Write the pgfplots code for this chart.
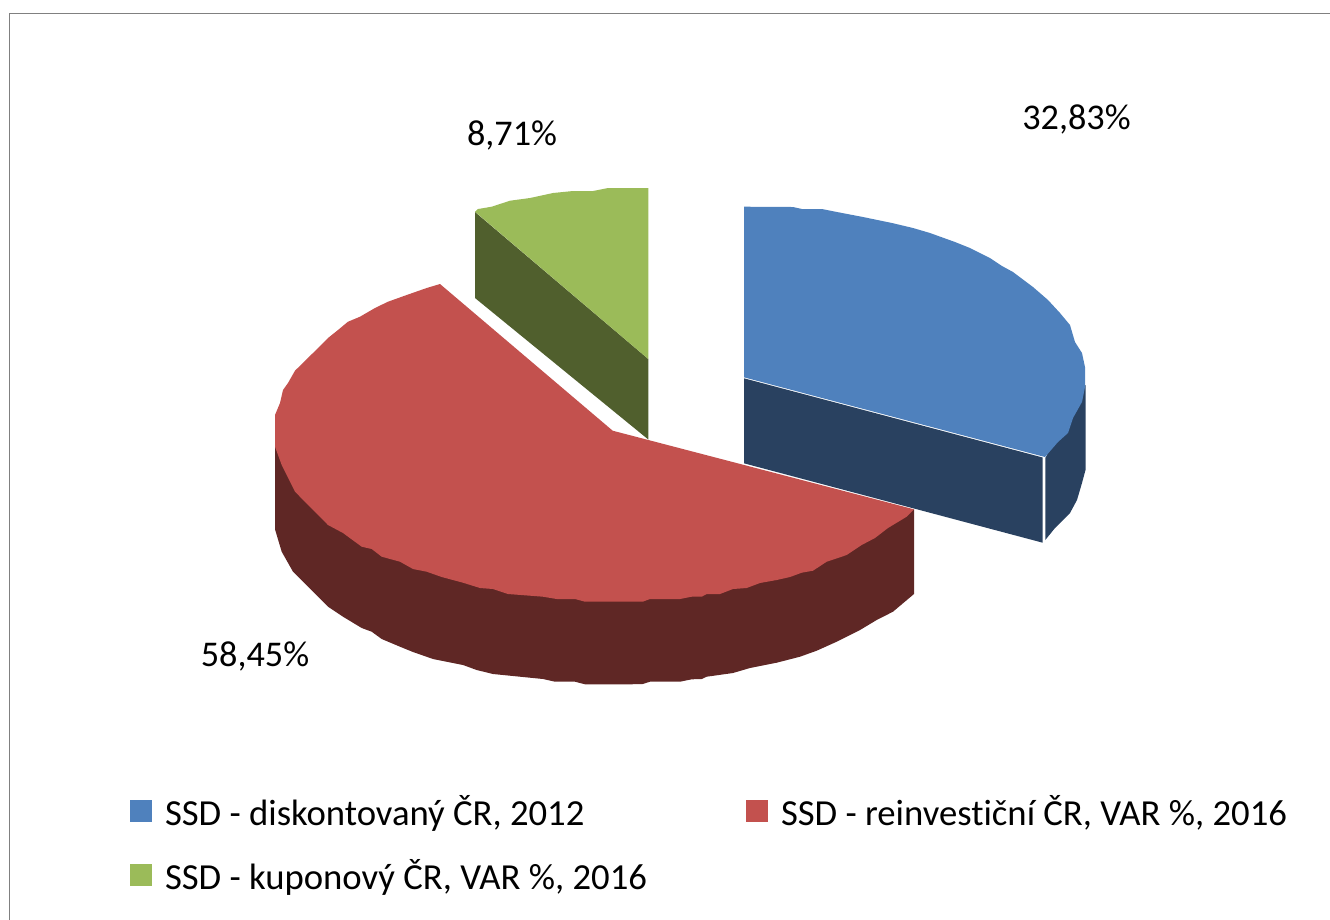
\documentclass[border=0pt]{standalone}
\usepackage{fontspec}
\setmainfont{Carlito}[Ligatures=NoCommon]
\usepackage{pgfplots}
\pgfplotsset{compat=1.18}
\definecolor{pieblue}{HTML}{4F81BD}
\definecolor{piered}{HTML}{C3514E}
\definecolor{piegreen}{HTML}{9BBB59}
\definecolor{darkblue}{HTML}{294160}
\definecolor{darkred}{HTML}{5F2725}
\definecolor{darkgreen}{HTML}{505F2D}
\begin{document}
\begin{tikzpicture}
\useasboundingbox (0,0) rectangle (1330bp,920bp);
\begin{axis}[
    at={(0,0)}, anchor=south west,
    scale only axis,
    width=1330bp, height=920bp,
    xmin=0, xmax=1330, ymin=0, ymax=920,
    y dir=reverse,
    hide axis,
    no markers,
    font=\fontsize{36.2bp}{44bp}\selectfont,
    legend columns=2,
    legend cell align=left,
    legend image code/.code={\fill[#1] (0bp,-11bp) rectangle (22bp,11bp);},
    legend style={
        at={(axis cs:130,795)}, anchor=north west,
        draw=none, fill=none, inner sep=0pt, outer sep=0pt,
        font=\fontsize{36.7bp}{44bp}\selectfont,
        /tikz/column 2/.style={column sep=86bp},
        row sep=32.5bp,
        nodes={inner ysep=0pt, inner xsep=13bp},
    },
]
% frame
\addplot[forget plot, draw=gray, line width=1.6bp] coordinates {(9.5,920) (9.5,13.5) (1330,13.5)};

% blue slice
\addplot[forget plot, fill=darkblue, draw=none] coordinates {
    (744,378.3) (1042.7,457.5) (1042.7,542.7) (744,463.3)};
\addplot[forget plot, fill=darkblue, draw=none] coordinates {
    (1045.3,458) (1085.5,385) (1085.5,470) (1082,483) (1077,500) (1070,513) (1055,528) (1045.3,540)};
\addplot[fill=pieblue, draw=none] coordinates {
    (744,206.7) (793,207) (802,209) (822,209) (837,212) (863,217) (892,223) (913,228)
    (930,233) (955,242) (970,248) (990,258) (1002,266) (1013,272) (1033,287) (1048,300)
    (1060,313) (1070,325) (1075,342) (1082,353) (1085,367) (1085,387) (1082,402) (1073,418)
    (1068,433) (1058,442) (1045,457) (744,377.3)};
\addlegendentry{SSD - diskontovaný ČR, 2012}

% red slice
\addplot[forget plot, fill=darkred, draw=none] coordinates {
    (275,430) (275,529.3) (281.7,551.7) (293,571.7) (328,606.7) (343,616.7) (361.7,628)
    (371.7,631.7) (381.7,639) (400,646.7) (413,652) (433,659) (463,665) (476.7,670)
    (493,674) (520,676.7) (543,679) (555,681.7) (575,681.7) (585,684.3) (630,684.3)
    (642.7,684) (650,681.7) (680,681.7) (691.7,679.3) (701.7,679) (706.7,676.7) (733,673)
    (750,668) (776.7,662.7) (800,656.7) (816.7,650.7) (836.7,641.7) (860,630) (876.7,620)
    (893,611.7) (914,594) (914,509.3) (600,500)};
\addplot[fill=piered, draw=none] coordinates {
    (440,284) (426.7,288) (406.7,295) (388,301.7) (375,308) (360,316.7) (348,321.7) (338,330)
    (328,338) (313,353) (295,370.7) (288,383) (283,390) (280,403) (275,415) (275,446.7)
    (281.7,465) (290,481.7) (295,491.7) (328,525) (343,533) (361.7,546.7) (371.7,549)
    (381.7,556.7) (400,561.7) (413,569) (426.7,571.7) (441.7,577) (463,582.7) (480,588)
    (493,589) (508,594) (543,596.7) (556.7,599) (575,599) (585,601.7) (630,601.7)
    (642.7,601.7) (650,599) (680,599) (691.7,596.7) (701.7,596.7) (706.7,594) (720,594)
    (733,589) (746.7,588) (760,583) (776.7,580) (790,577) (801.7,572.7) (813,570.7)
    (826.7,561.7) (846.7,555) (861.7,545) (875,538) (888,528) (906.7,516.7) (914,509.3)
    (612.7,430.7)};
\addlegendentry{SSD - reinvestiční ČR, VAR \%, 2016}

% green slice
\addplot[forget plot, fill=darkgreen, draw=none] coordinates {
    (475,212) (648.3,359) (648.3,439.5) (475,298)};
\addplot[fill=piegreen, draw=none] coordinates {
    (475,211.7) (478,209) (491.7,206.7) (510,200.7) (530,198) (553,193) (573,191) (593,191)
    (608,188) (648.3,188) (648.3,359)};
\addlegendentry{SSD - kuponový ČR, VAR \%, 2016}

\node[anchor=center] at (axis cs:1076.5,119) {32,83\%};
\node[anchor=center] at (axis cs:512,135) {8,71\%};
\node[anchor=center] at (axis cs:255,656) {58,45\%};
\end{axis}
\end{tikzpicture}
\end{document}
